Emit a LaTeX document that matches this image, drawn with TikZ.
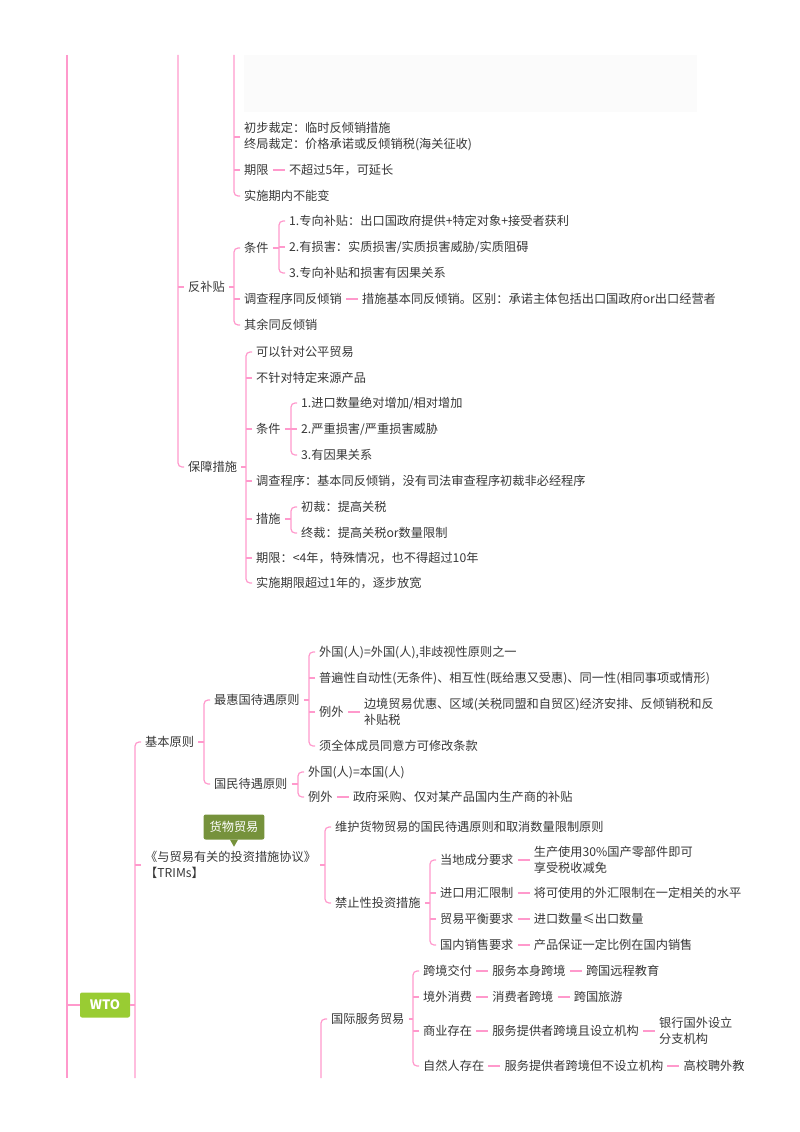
\documentclass[tikz,border=0pt]{standalone}
\usepackage{fontspec}
\setmainfont{Noto Sans CJK SC}
\usetikzlibrary{positioning}

\definecolor{linkpink}{RGB}{255,153,204}
\definecolor{txtgray}{RGB}{55,55,55}
\definecolor{wtogreen}{RGB}{153,204,51}
\definecolor{tagolive}{RGB}{118,146,60}
\definecolor{boxgray}{RGB}{251,251,251}
\newcommand{\mmfont}{\fontsize{12.2}{16}\selectfont}

\tikzset{
    link/.style={linkpink, line width=1.2pt},
    trunk/.style={linkpink, line width=1.8pt},
    topic/.style={anchor=west, inner xsep=4pt, inner ysep=1pt, text=txtgray,
                  font=\mmfont, text height=10pt, text depth=2pt},
    topictwo/.style={anchor=west, inner xsep=4pt, inner ysep=1pt, text=txtgray,
                  font=\mmfont, align=left},
}

\begin{document}
\begin{tikzpicture}[x=1pt, y=-1pt]
\useasboundingbox (0,0) rectangle (800,1132);

% faint picture area at the top
\fill[boxgray] (244,55) rectangle (697,112);

% ends of the branches cut by the page
\coordinate (rootTop) at (67,55);
\coordinate (rootBot) at (67,1078);
\coordinate (jjTop) at (178,55);
\coordinate (fqxTop) at (234,55);
\coordinate (wtoBot) at (135,1078);
\coordinate (fwBot) at (321,1078);

% ---------- end of anti-dumping
\node[topictwo] (cbcd) at (240,137)
    {初步裁定：临时反倾销措施\\终局裁定：价格承诺或反倾销税(海关征收)};
\node[topic] (qx1) at (240,170) {期限};
\node[topic, right=12pt of qx1] (qx1a) {不超过5年，可延长};
\node[topic] (bnb) at (240,196) {实施期内不能变};

% ---------- countervailing
\node[topic] (fbt) at (184,287) {反补贴};
\node[topic] (fbtTj) at (240,248) {条件};
\node[topic] (fbtTj1) at (285,221) {1.专向补贴：出口国政府提供+特定对象+接受者获利};
\node[topic] (fbtTj2) at (285,247) {2.有损害：实质损害/实质损害威胁/实质阻碍};
\node[topic] (fbtTj3) at (285,273) {3.专向补贴和损害有因果关系};
\node[topic] (fbtDc) at (240,299) {调查程序同反倾销};
\node[topic, right=12pt of fbtDc] (fbtDca)
    {措施基本同反倾销。区别：承诺主体包括出口国政府or出口经营者};
\node[topic] (fbtQy) at (240,325) {其余同反倾销};

% ---------- safeguards
\node[topic] (bz) at (184,467) {保障措施};
\node[topic] (bz1) at (252,352) {可以针对公平贸易};
\node[topic] (bz2) at (252,378) {不针对特定来源产品};
\node[topic] (bzTj) at (252,429) {条件};
\node[topic] (bzTj1) at (297,403) {1.进口数量绝对增加/相对增加};
\node[topic] (bzTj2) at (297,429) {2.严重损害/严重损害威胁};
\node[topic] (bzTj3) at (297,455) {3.有因果关系};
\node[topic] (bzDc) at (252,481) {调查程序：基本同反倾销，没有司法审查程序初裁非必经程序};
\node[topic] (bzCs) at (252,519) {措施};
\node[topic] (bzCs1) at (297,507) {初裁：提高关税};
\node[topic] (bzCs2) at (297,533) {终裁：提高关税or数量限制};
\node[topic] (bzQx) at (252,558) {期限：<4年，特殊情况，也不得超过10年};
\node[topic] (bzSs) at (252,583) {实施期限超过1年的，逐步放宽};

% ---------- WTO
\node[fill=wtogreen, text=white, font=\bfseries\fontsize{13}{13}\selectfont,
      rounded corners=2pt, minimum width=50pt, minimum height=25pt,
      inner sep=0pt] (wto) at (105,1005) {WTO};

\node[topic] (jbyz) at (141,742) {基本原则};
\node[topic] (zhg) at (210,700) {最惠国待遇原则};
\node[topic] (zhg1) at (315,652) {外国(人)=外国(人),非歧视性原则之一};
\node[topic] (zhg2) at (315,678)
    {普遍性自动性(无条件)、相互性(既给惠又受惠)、同一性(相同事项或情形)};
\node[topic] (zhg3) at (315,712) {例外};
\node[topictwo, right=12pt of zhg3] (zhg3a)
    {边境贸易优惠、区域(关税同盟和自贸区)经济安排、反倾销税和反\\补贴税};
\node[topic] (zhg4) at (315,746) {须全体成员同意方可修改条款};
\node[topic] (gm) at (210,784) {国民待遇原则};
\node[topic] (gm1) at (304,772) {外国(人)=本国(人)};
\node[topic] (gm2) at (304,797) {例外};
\node[topic, right=12pt of gm2] (gm2a) {政府采购、仅对某产品国内生产商的补贴};

\node[topictwo] (trims) at (141,865) {《与贸易有关的投资措施协议》\\【TRIMs】};
\node[fill=tagolive, text=white, font=\mmfont, rounded corners=2pt,
      inner xsep=6pt, minimum height=25pt] (tag) at (234,827) {货物贸易};
\node[topic] (trims1) at (331,827) {维护货物贸易的国民待遇原则和取消数量限制原则};
\node[topic] (jz) at (331,903) {禁止性投资措施};
\node[topic] (jz1) at (436,860) {当地成分要求};
\node[topictwo, right=12pt of jz1] (jz1a) {生产使用30\%国产零部件即可\\享受税收减免};
\node[topic] (jz2) at (436,893) {进口用汇限制};
\node[topic, right=12pt of jz2] (jz2a) {将可使用的外汇限制在一定相关的水平};
\node[topic] (jz3) at (436,919) {贸易平衡要求};
\node[topic, right=12pt of jz3] (jz3a) {进口数量≤出口数量};
\node[topic] (jz4) at (436,945) {国内销售要求};
\node[topic, right=12pt of jz4] (jz4a) {产品保证一定比例在国内销售};

\node[topic] (gjfw) at (327,1019) {国际服务贸易};
\node[topic] (kjjf) at (419,971) {跨境交付};
\node[topic, right=12pt of kjjf] (kjjfa) {服务本身跨境};
\node[topic, right=12pt of kjjfa] (kjjfb) {跨国远程教育};
\node[topic] (jwxf) at (419,997) {境外消费};
\node[topic, right=12pt of jwxf] (jwxfa) {消费者跨境};
\node[topic, right=12pt of jwxfa] (jwxfb) {跨国旅游};
\node[topic] (syzz) at (419,1031) {商业存在};
\node[topic, right=12pt of syzz] (syzza) {服务提供者跨境且设立机构};
\node[topictwo, right=12pt of syzza] (syzzb) {银行国外设立\\分支机构};
\node[topic] (zrr) at (419,1066) {自然人存在};
\node[topic, right=12pt of zrr] (zrra) {服务提供者跨境但不设立机构};
\node[topic, right=12pt of zrra] (zrrb) {高校聘外教};

% ---------- connectors
\draw[trunk] (rootTop) -- (rootBot);
\draw[link] (wto.west) -- (wto.west -| rootTop);

\draw[link, rounded corners=4pt] (fqxTop) |- (bnb.west);
\foreach \n in {cbcd, qx1}
    \draw[link] (\n.west) -- (\n.west -| fqxTop);

\draw[link, rounded corners=4pt] (jjTop) |- (bz.west);
\draw[link] (fbt.west) -- (fbt.west -| jjTop);

\coordinate (fbtBus) at ([xshift=-6pt]fbtTj.west);
\draw[link] (fbt.east) -- (fbt.east -| fbtBus);
\draw[link, rounded corners=4pt] (fbtTj.west) -- (fbtBus) |- (fbtQy.west);
\draw[link] (fbtDc.west) -- (fbtDc.west -| fbtBus);

\coordinate (fbtTjBus) at ([xshift=-6pt]fbtTj1.west);
\draw[link] (fbtTj.east) -- (fbtTj.east -| fbtTjBus);
\draw[link, rounded corners=4pt] (fbtTj1.west) -- (fbtTjBus) |- (fbtTj3.west);
\draw[link] (fbtTj2.west) -- (fbtTj2.west -| fbtTjBus);

\coordinate (bzBus) at ([xshift=-6pt]bz1.west);
\draw[link] (bz.east) -- (bz.east -| bzBus);
\draw[link, rounded corners=4pt] (bz1.west) -- (bzBus) |- (bzSs.west);
\foreach \n in {bz2, bzTj, bzDc, bzCs, bzQx}
    \draw[link] (\n.west) -- (\n.west -| bzBus);

\coordinate (bzTjBus) at ([xshift=-6pt]bzTj1.west);
\draw[link] (bzTj.east) -- (bzTj.east -| bzTjBus);
\draw[link, rounded corners=4pt] (bzTj1.west) -- (bzTjBus) |- (bzTj3.west);
\draw[link] (bzTj2.west) -- (bzTj2.west -| bzTjBus);

\coordinate (bzCsBus) at ([xshift=-6pt]bzCs1.west);
\draw[link] (bzCs.east) -- (bzCs.east -| bzCsBus);
\draw[link, rounded corners=4pt] (bzCs1.west) -- (bzCsBus) |- (bzCs2.west);

\draw[link] (wto.east) -- (wto.east -| wtoBot);
\draw[link, rounded corners=4pt] (jbyz.west) -| (wtoBot);
\draw[link] (trims.west) -- (trims.west -| wtoBot);

\coordinate (jbyzBus) at ([xshift=-6pt]zhg.west);
\draw[link] (jbyz.east) -- (jbyz.east -| jbyzBus);
\draw[link, rounded corners=4pt] (zhg.west) -- (jbyzBus) |- (gm.west);

\coordinate (zhgBus) at ([xshift=-6pt]zhg1.west);
\draw[link] (zhg.east) -- (zhg.east -| zhgBus);
\draw[link, rounded corners=4pt] (zhg1.west) -- (zhgBus) |- (zhg4.west);
\foreach \n in {zhg2, zhg3}
    \draw[link] (\n.west) -- (\n.west -| zhgBus);

\coordinate (gmBus) at ([xshift=-6pt]gm1.west);
\draw[link] (gm.east) -- (gm.east -| gmBus);
\draw[link, rounded corners=4pt] (gm1.west) -- (gmBus) |- (gm2.west);

\coordinate (trimsBus) at ([xshift=-6pt]trims1.west);
\draw[link] (trims.east) -- (trims.east -| trimsBus);
\draw[link, rounded corners=4pt] (trims1.west) -- (trimsBus) |- (jz.west);
\fill[tagolive] ([xshift=-4pt]tag.south) -- ([xshift=4pt]tag.south)
    -- ([yshift=-7pt]tag.south) -- cycle;

\coordinate (jzBus) at ([xshift=-6pt]jz1.west);
\draw[link] (jz.east) -- (jz.east -| jzBus);
\draw[link, rounded corners=4pt] (jz1.west) -- (jzBus) |- (jz4.west);
\foreach \n in {jz2, jz3}
    \draw[link] (\n.west) -- (\n.west -| jzBus);

\draw[link, rounded corners=4pt] (gjfw.west) -| (fwBot);
\coordinate (gjfwBus) at ([xshift=-6pt]kjjf.west);
\draw[link] (gjfw.east) -- (gjfw.east -| gjfwBus);
\draw[link, rounded corners=4pt] (kjjf.west) -- (gjfwBus) |- (zrr.west);
\foreach \n in {jwxf, syzz}
    \draw[link] (\n.west) -- (\n.west -| gjfwBus);

% dashes between topics on one row
\foreach \a/\b in {qx1/qx1a, fbtDc/fbtDca, zhg3/zhg3a, gm2/gm2a,
                   jz1/jz1a, jz2/jz2a, jz3/jz3a, jz4/jz4a,
                   kjjf/kjjfa, kjjfa/kjjfb, jwxf/jwxfa, jwxfa/jwxfb,
                   syzz/syzza, syzza/syzzb, zrr/zrra, zrra/zrrb}
    \draw[link] (\a.east) -- (\b.west);
\end{tikzpicture}
\end{document}
